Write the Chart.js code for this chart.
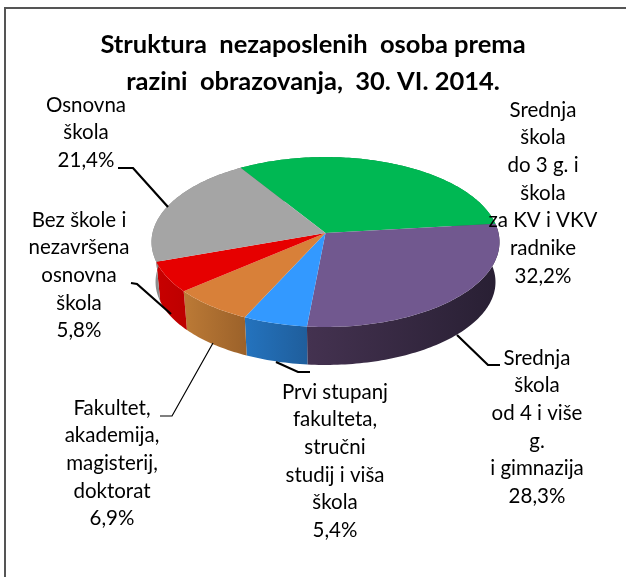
<!DOCTYPE html>
<html>
<head>
<meta charset="utf-8">
<style>
  html, body { margin: 0; padding: 0; background: #fff; }
  canvas { display: block; }
</style>
<script src="https://cdn.jsdelivr.net/npm/chart.js@4"></script>
</head>
<body>
<canvas id="chart" width="626" height="577"></canvas>
<script>
const titleLines = ['Struktura  nezaposlenih  osoba prema', 'razini  obrazovanja,  30. VI. 2014.']

const categories = [
  ['Srednja', 'škola', 'do 3 g. i', 'škola', 'za KV i VKV', 'radnike'],
  ['Srednja', 'škola', 'od 4 i više', 'g.', 'i gimnazija'],
  ['Prvi stupanj', 'fakulteta,', 'stručni', 'studij i viša', 'škola'],
  ['Fakultet,', 'akademija,', 'magisterij,', 'doktorat'],
  ['Bez škole i', 'nezavršena', 'osnovna', 'škola'],
  ['Osnovna', 'škola'],
]
const shares = [32.2, 28.3, 5.4, 6.9, 5.8, 21.4]

const topColors = ['#00B853', '#71588F', '#3399FF', '#D88039', '#E60000', '#A5A5A5']
const wallColors = [
  ['#008A3E', '#008A3E'],
  ['#443250', '#281F33'],
  ['#2473BE', '#1F5E9C'],
  ['#BC7A36', '#9C622A'],
  ['#C80000', '#BE0000'],
  ['#8C8C8C', '#808080'],
]

// label block: centre x, first line centre y
const labelPos = [[543, 110], [537, 358], [335, 392], [112, 408], [79, 220], [86, 105]]
const labelGap = 27.7

const leaders = [
  { w: 2.2, pts: [[118, 168], [133, 168], [168, 207]] },
  { w: 2.2, pts: [[131, 283], [137, 284], [171, 314]] },
  { w: 1.2, pts: [[160, 416], [172, 416], [213, 343]] },
  { w: 2.2, pts: [[276, 362], [298, 372], [310, 372]] },
  { w: 2.2, pts: [[457, 335], [488, 365], [500, 365]] },
]

// the pie is seen in perspective so the apex sits above the middle of the ellipse
const apex = { x: 325.5, y: 233 }
const radiusX = 173
const radiusY = 84
const tilt = 0.106
const upperRim = { cx: 326, cy: 242, rx: 174, ry: 85 }
const lowerRim = { cx: 326, cy: 282, rx: 170, ry: 83 }

function topPoint(angle) {
  const u = Math.cos(angle)
  const v = Math.sin(angle)
  const w = 1 - tilt * v
  return [apex.x + radiusX * u / w, apex.y + radiusY * v / w]
}

function lowPoint(p) {
  return [
    lowerRim.cx + (p[0] - upperRim.cx) * lowerRim.rx / upperRim.rx,
    lowerRim.cy + (p[1] - upperRim.cy) * lowerRim.ry / upperRim.ry,
  ]
}

function sweep(start, end) {
  const out = []
  const n = Math.max(2, Math.ceil((end - start) / 0.02))
  for (let i = 0; i <= n; i++) out.push(start + (end - start) * i / n)
  return out
}

const pie3d = {
  id: 'pie3d',
  beforeDatasetsDraw(chart) {
    const ctx = chart.ctx
    const arcs = chart.getDatasetMeta(0).data

    arcs.forEach((arc, i) => {
      const rim = sweep(arc.startAngle, arc.endAngle).map(topPoint)
      const xs = rim.map(p => p[0])
      const g = ctx.createLinearGradient(Math.min(...xs), 0, Math.max(...xs), 0)
      g.addColorStop(0, wallColors[i][0])
      g.addColorStop(1, wallColors[i][1])
      ctx.beginPath()
      rim.forEach((p, k) => k ? ctx.lineTo(p[0], p[1]) : ctx.moveTo(p[0], p[1]))
      rim.slice().reverse().forEach(p => {
        const q = lowPoint(p)
        ctx.lineTo(q[0], q[1])
      })
      ctx.closePath()
      ctx.fillStyle = g
      ctx.fill()
    })

    arcs.forEach((arc, i) => {
      ctx.beginPath()
      ctx.moveTo(apex.x, apex.y)
      sweep(arc.startAngle, arc.endAngle).map(topPoint).forEach(p => ctx.lineTo(p[0], p[1]))
      ctx.closePath()
      ctx.fillStyle = topColors[i]
      ctx.fill()
    })
    return false
  },
  afterDraw(chart) {
    const ctx = chart.ctx
    ctx.save()

    // frame, only left and top show in the reference
    ctx.strokeStyle = '#555'
    ctx.lineWidth = 2
    ctx.beginPath()
    ctx.moveTo(5, 577)
    ctx.lineTo(5, 8)
    ctx.lineTo(626, 8)
    ctx.stroke()

    ctx.strokeStyle = '#000'
    leaders.forEach(l => {
      ctx.lineWidth = l.w
      ctx.beginPath()
      l.pts.forEach((p, k) => k ? ctx.lineTo(p[0], p[1]) : ctx.moveTo(p[0], p[1]))
      ctx.stroke()
    })

    ctx.fillStyle = '#000'
    ctx.font = '20.5px Lato'
    ctx.textAlign = 'center'
    ctx.textBaseline = 'middle'
    categories.forEach((lines, i) => {
      const pct = shares[i].toFixed(1).replace('.', ',') + '%'
      lines.concat(pct).forEach((line, k) => {
        ctx.fillText(line, labelPos[i][0], labelPos[i][1] + k * labelGap)
      })
    })
    ctx.restore()
  },
}

new Chart(document.getElementById('chart'), {
  type: 'pie',
  data: {
    labels: categories.map(c => c.join(' ')),
    datasets: [{ data: shares, backgroundColor: topColors, borderWidth: 0 }],
  },
  options: {
    responsive: false,
    animation: false,
    rotation: -32.3,
    layout: { padding: 0 },
    plugins: {
      legend: { display: false },
      tooltip: { enabled: false },
      title: {
        display: true,
        text: titleLines,
        color: '#000',
        font: { family: 'Lato', size: 25.5, weight: 'bold', lineHeight: 1.45 },
        padding: { top: 26, bottom: 0 },
      },
    },
  },
  plugins: [pie3d],
})
</script>
</body>
</html>
